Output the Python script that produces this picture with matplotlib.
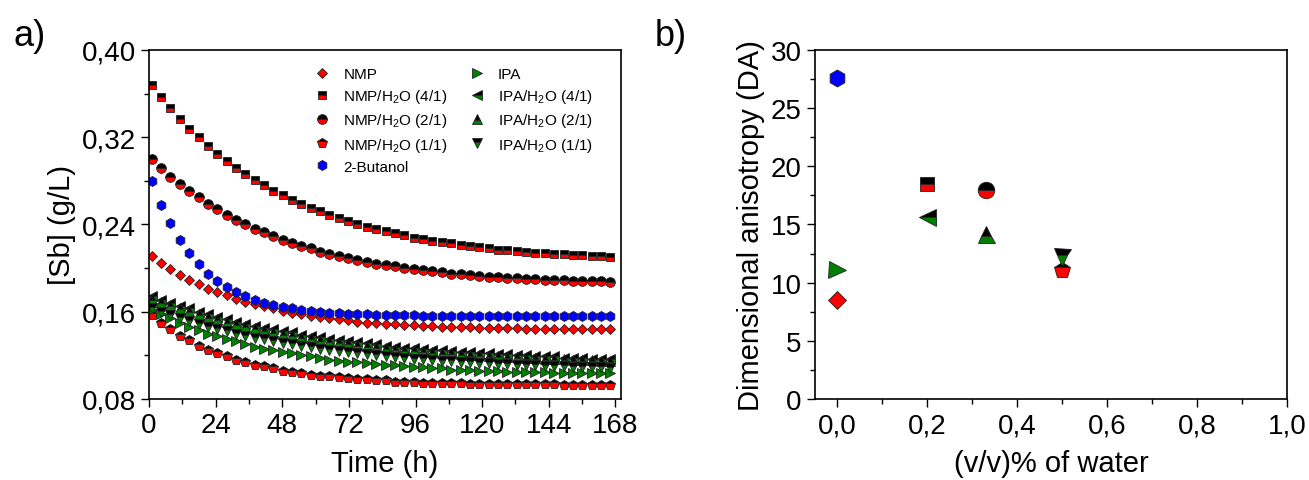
import matplotlib
matplotlib.use('Agg')
import matplotlib.pyplot as plt
from matplotlib.ticker import FuncFormatter, MultipleLocator

plt.rcParams['font.family'] = ['Liberation Sans', 'DejaVu Sans']
plt.rcParams['mathtext.fontset'] = 'custom'
plt.rcParams['mathtext.rm'] = 'Liberation Sans'

# ---- panel a data: time (h) and [Sb] (g/L, in thousandths) ----
time_h = [1.0, 4.4, 7.7, 11.1, 14.5, 17.9, 21.2, 24.6, 28.0, 31.3, 34.7, 38.1, 41.4, 44.8,
          48.2, 51.6, 54.9, 58.3, 61.7, 65.0, 68.4, 71.8, 75.1, 78.5, 81.9, 85.2, 88.6,
          92.0, 95.4, 98.7, 102.1, 105.5, 108.8, 112.2, 115.6, 119.0, 122.3, 125.7, 129.1,
          132.4, 135.8, 139.2, 142.5, 145.9, 149.3, 152.7, 156.0, 159.4, 162.8, 166.1]

nmp = [211, 205, 199, 194, 189, 185, 181, 178, 175, 172, 169, 167, 165, 163, 161, 159, 158,
       156, 155, 154, 153, 152, 151, 150, 150, 149, 149, 148, 148, 147, 147, 146, 146, 146,
       146, 145, 145, 145, 145, 145, 144, 144, 144, 144, 144, 144, 144, 144, 144, 144]
nmp_41 = [368, 357, 347, 337, 328, 320, 312, 305, 298, 292, 286, 281, 276, 271, 267, 262, 259,
          255, 252, 249, 246, 243, 240, 238, 236, 234, 232, 230, 228, 227, 225, 224, 223, 221,
          220, 219, 218, 217, 217, 216, 215, 214, 214, 213, 213, 212, 212, 211, 211, 210]
nmp_21 = [300, 292, 284, 277, 271, 265, 259, 254, 249, 244, 240, 236, 233, 229, 226, 223, 220,
          218, 215, 213, 211, 209, 207, 206, 204, 203, 202, 200, 199, 198, 197, 196, 195, 195,
          194, 193, 192, 192, 191, 191, 190, 190, 189, 189, 189, 188, 188, 188, 188, 187]
nmp_11 = [157, 150, 144, 138, 134, 129, 125, 122, 119, 116, 114, 111, 110, 108, 106, 105, 104,
          102, 101, 101, 100, 99, 98, 98, 97, 97, 96, 96, 96, 95, 95, 95, 95, 95, 94, 94, 94,
          94, 94, 94, 94, 94, 94, 94, 93, 93, 93, 93, 93, 93]
butanol = [280, 258, 241, 226, 214, 204, 195, 188, 183, 178, 174, 171, 168, 166, 164, 163, 162,
           161, 160, 159, 159, 158, 158, 158, 157, 157, 157, 157, 157, 156, 156, 156, 156, 156,
           156, 156, 156, 156, 156, 156, 156, 156, 156, 156, 156, 156, 156, 156, 156, 156]
ipa = [162, 158, 154, 150, 146, 143, 140, 138, 135, 133, 130, 128, 126, 125, 123, 122, 120,
       119, 118, 116, 115, 114, 114, 113, 112, 111, 111, 110, 109, 109, 108, 108, 107, 107,
       107, 106, 106, 106, 105, 105, 105, 105, 105, 104, 104, 104, 104, 104, 104, 104]
ipa_41 = [174, 171, 168, 165, 163, 160, 158, 155, 153, 151, 149, 147, 145, 144, 142, 141, 139,
          138, 137, 135, 134, 133, 132, 131, 130, 129, 128, 127, 127, 126, 125, 125, 124, 123,
          123, 122, 122, 121, 121, 120, 120, 119, 119, 119, 118, 118, 118, 117, 117, 117]
ipa_21 = [172.0, 168.9, 165.9, 163.1, 160.4, 157.8, 155.4, 153.1, 151.0, 148.9, 146.9, 145.1,
          143.3, 141.6, 140.0, 138.5, 137.0, 135.7, 134.4, 133.2, 132.0, 130.9, 129.8, 128.8,
          127.9, 127.0, 126.1, 125.3, 124.5, 123.8, 123.1, 122.4, 121.8, 121.2, 120.6, 120.1,
          119.6, 119.1, 118.6, 118.2, 117.8, 117.4, 117.0, 116.7, 116.3, 116.0, 115.7, 115.4,
          115.1, 114.9]
ipa_11 = [163.0, 159.8, 156.8, 154.0, 151.3, 148.8, 146.4, 144.1, 142.0, 140.0, 138.1, 136.3,
          134.6, 132.9, 131.4, 130.0, 128.6, 127.3, 126.1, 125.0, 123.9, 122.8, 121.9, 120.9,
          120.1, 119.2, 118.5, 117.7, 117.0, 116.4, 115.8, 115.2, 114.6, 114.1, 113.6, 113.1,
          112.7, 112.3, 111.9, 111.5, 111.1, 110.8, 110.5, 110.2, 109.9, 109.6, 109.4, 109.1,
          108.9, 108.7]

labels = ['NMP', 'NMP/H$_\\mathregular{2}$O (4/1)', 'NMP/H$_\\mathregular{2}$O (2/1)',
          'NMP/H$_\\mathregular{2}$O (1/1)', '2-Butanol', 'IPA',
          'IPA/H$_\\mathregular{2}$O (4/1)', 'IPA/H$_\\mathregular{2}$O (2/1)',
          'IPA/H$_\\mathregular{2}$O (1/1)']
series = [nmp, nmp_41, nmp_21, nmp_11, butanol, ipa, ipa_41, ipa_21, ipa_11]

# ---- panel b data ----
water = [0.0, 0.2, 0.33, 0.5, 0.0, 0.0, 0.2, 0.33, 0.5]
da = [8.5, 18.5, 17.95, 11.1, 27.6, 11.05, 15.65, 14.2, 12.2]

styles = [
    dict(marker='D', ms=5.5, mfc='red', fillstyle='full'),
    dict(marker='s', ms=6.2, mfc='black', mfcalt='red', fillstyle='top'),
    dict(marker='o', ms=7.0, mfc='black', mfcalt='red', fillstyle='top'),
    dict(marker='p', ms=7.2, mfc='black', mfcalt='red', fillstyle='top'),
    dict(marker='h', ms=7.2, mfc='blue', fillstyle='full'),
    dict(marker='>', ms=7.2, mfc='green', fillstyle='full'),
    dict(marker='<', ms=7.2, mfc='black', mfcalt='green', fillstyle='top'),
    dict(marker='^', ms=7.2, mfc='black', mfcalt='green', fillstyle='top'),
    dict(marker='v', ms=7.2, mfc='black', mfcalt='green', fillstyle='top'),
]


def marker_kw(st, scale=1.0):
    kw = dict(marker=st['marker'], markersize=st['ms'] * scale, markerfacecolor=st['mfc'],
              fillstyle=st['fillstyle'], markeredgecolor='#222222', markeredgewidth=0.6,
              linestyle='none')
    if 'mfcalt' in st:
        kw['markerfacecoloralt'] = st['mfcalt']
    return kw


fig = plt.figure(figsize=(13.09, 4.81), dpi=100)
ax1 = fig.add_axes([0.1138, 0.1684, 0.3606, 0.7256])
ax2 = fig.add_axes([0.6226, 0.1684, 0.3606, 0.7256])

handles = []
for s, st in zip(series, styles):
    ln, = ax1.plot(time_h, [v / 1000 for v in s], **marker_kw(st))
    handles.append(ln)

ax1.set_xlim(0, 170)
ax1.set_ylim(0.08, 0.40)
ax1.xaxis.set_major_locator(MultipleLocator(24))
ax1.xaxis.set_minor_locator(MultipleLocator(12))
ax1.yaxis.set_major_locator(MultipleLocator(0.08))
ax1.yaxis.set_minor_locator(MultipleLocator(0.04))
ax1.yaxis.set_major_formatter(FuncFormatter(lambda v, p: f'{v:.2f}'.replace('.', ',')))
ax1.set_xlabel('Time (h)', fontsize=21, labelpad=8)
ax1.set_ylabel('[Sb] (g/L)', fontsize=21)
ax1.legend(handles, labels, ncol=2, loc='upper left', bbox_to_anchor=(0.318, 0.99),
           frameon=False, fontsize=11, handletextpad=0.8, columnspacing=1.3,
           labelspacing=0.4, handlelength=1.2)

for x, y, st in zip(water, da, styles):
    ax2.plot([x], [y], **marker_kw(st, 1.7))
ax2.set_xlim(-0.05, 1.0)
ax2.set_ylim(0, 30)
ax2.xaxis.set_major_locator(MultipleLocator(0.2))
ax2.xaxis.set_minor_locator(MultipleLocator(0.1))
ax2.yaxis.set_major_locator(MultipleLocator(5))
ax2.yaxis.set_minor_locator(MultipleLocator(2.5))
ax2.xaxis.set_major_formatter(FuncFormatter(lambda v, p: f'{v:.1f}'.replace('.', ',')))
ax2.set_xlabel('(v/v)% of water', fontsize=21, labelpad=8)
ax2.set_ylabel('Dimensional anisotropy (DA)', fontsize=21)

for ax in (ax1, ax2):
    ax.tick_params(which='major', direction='out', length=6, width=1, labelsize=20)
    ax.tick_params(which='minor', direction='out', length=3.5, width=1)
    for sp in ax.spines.values():
        sp.set_linewidth(1.2)

fig.text(0.01, 0.905, 'a)', fontsize=26)
fig.text(0.50, 0.905, 'b)', fontsize=26)

fig.savefig('out.png', dpi=100)
